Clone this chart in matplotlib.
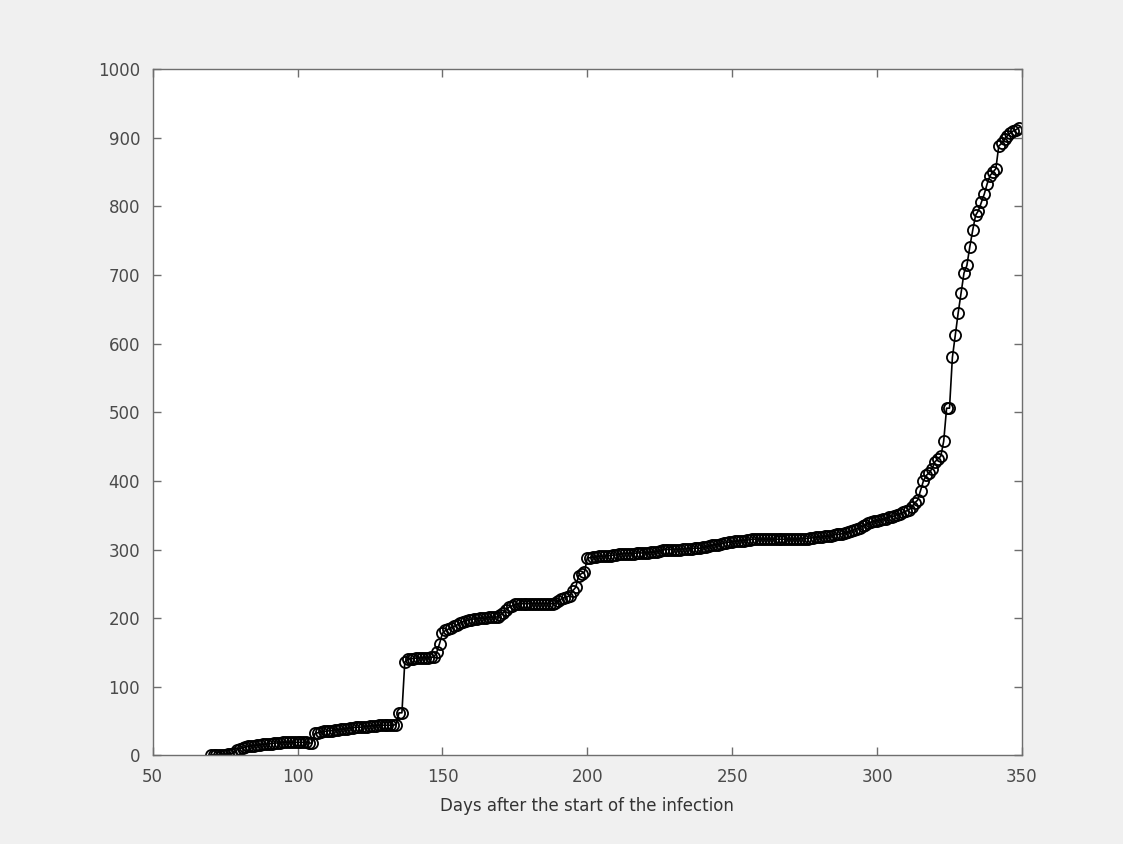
import numpy as np
import matplotlib
matplotlib.use("Agg")
import matplotlib.pyplot as plt

# cumulative count per day (days 70..349)
days = np.arange(70, 350)
counts = [
    # 70-79
    1, 1, 1, 1, 1, 1, 2, 2, 4, 8,
    # 80-89
    10, 11, 12, 13, 14, 14, 15, 15, 16, 16,
    # 90-99
    17, 17, 18, 18, 18, 19, 19, 19, 19, 19,
    # 100-109
    19, 19, 19, 19, 18, 18, 32, 33, 34, 35,
    # 110-119
    35, 36, 36, 37, 37, 38, 38, 39, 40, 40,
    # 120-129
    41, 41, 41, 42, 42, 43, 43, 43, 44, 44,
    # 130-139
    44, 44, 44, 44, 45, 62, 62, 136, 140, 141,
    # 140-149
    141, 142, 142, 142, 142, 142, 143, 143, 150, 163,
    # 150-159
    178, 182, 184, 186, 188, 190, 193, 195, 196, 197,
    # 160-169
    198, 199, 199, 200, 200, 200, 201, 201, 201, 202,
    # 170-179
    205, 208, 212, 216, 218, 220, 221, 221, 221, 221,
    # 180-189
    221, 221, 221, 221, 221, 221, 221, 221, 221, 222,
    # 190-199
    225, 228, 230, 231, 233, 240, 245, 262, 265, 267,
    # 200-209
    288, 288, 289, 289, 290, 290, 290, 291, 291, 292,
    # 210-219
    292, 293, 294, 294, 294, 294, 294, 295, 295, 295,
    # 220-229
    295, 295, 296, 296, 297, 298, 299, 300, 300, 300,
    # 230-239
    300, 300, 300, 301, 301, 301, 301, 302, 302, 302,
    # 240-249
    303, 304, 305, 306, 307, 307, 308, 309, 310, 311,
    # 250-259
    311, 312, 312, 313, 313, 314, 314, 315, 315, 315,
    # 260-269
    315, 315, 315, 315, 315, 315, 315, 315, 315, 315,
    # 270-279
    315, 315, 315, 315, 316, 316, 316, 317, 317, 318,
    # 280-289
    318, 318, 319, 319, 320, 321, 322, 322, 323, 324,
    # 290-299
    325, 327, 329, 330, 332, 334, 336, 338, 340, 341,
    # 300-309
    342, 343, 344, 345, 347, 348, 349, 351, 352, 354,
    # 310-319
    356, 358, 362, 368, 372, 386, 400, 408, 412, 418,
    # 320-329
    428, 432, 436, 458, 506, 506, 580, 612, 645, 674,
    # 330-339
    703, 714, 741, 765, 787, 794, 806, 818, 833, 845,
    # 340-349
    850, 855, 888, 892, 898, 903, 907, 910, 912, 915,
]

xticks = [50, 100, 150, 200, 250, 300, 350]
yticks = [0, 100, 200, 300, 400, 500, 600, 700, 800, 900, 1000]

fig = plt.figure(figsize=(11.23, 8.44), dpi=100, facecolor="#f0f0f0")
ax = fig.add_axes([0.136, 0.105, 0.774, 0.813])

ax.plot(days, counts, "-o", color="black", linewidth=1.2,
        markersize=8, markerfacecolor="none", markeredgewidth=1.3)

ax.set_xlim(50, 350)
ax.set_ylim(0, 1000)
ax.set_xticks(xticks)
ax.set_yticks(yticks)
ax.set_xlabel("Days after the start of the infection", fontsize=12,
              color="#333333", labelpad=8)

axis_grey = "#6e6e6e"
for sp in ax.spines.values():
    sp.set_color(axis_grey)
    sp.set_linewidth(1.0)
ax.tick_params(direction="in", length=6, width=1.0, color=axis_grey,
               labelcolor="#4a4a4a", labelsize=12, top=True, right=True,
               labeltop=False, labelright=False)
ax.tick_params(axis="x", pad=9)
ax.tick_params(axis="y", pad=9)

fig.savefig("out.png", dpi=100, facecolor=fig.get_facecolor())
